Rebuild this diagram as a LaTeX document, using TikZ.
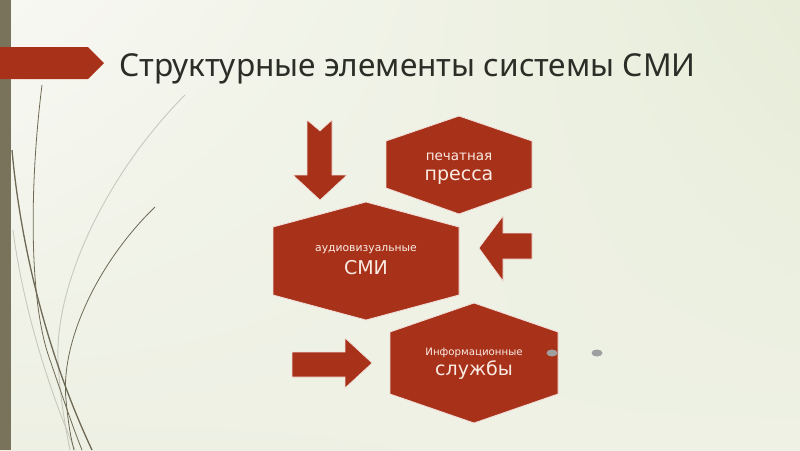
\documentclass[tikz,border=0pt]{standalone}
\usepackage{fontspec}
\usetikzlibrary{shadings}
\setmainfont{Noto Sans}
\newfontfamily\labelfont{DejaVu Sans}
\definecolor{hexred}{RGB}{168,50,25}
\definecolor{barcol}{RGB}{122,115,92}
\definecolor{titlecol}{RGB}{45,45,40}
\definecolor{hextext}{RGB}{250,235,228}
\definecolor{curvedark}{RGB}{110,105,85}
\definecolor{curvelight}{RGB}{200,200,190}
\definecolor{bgul}{RGB}{248,248,243}
\definecolor{bgur}{RGB}{231,237,217}
\definecolor{bgll}{RGB}{237,240,227}
\definecolor{bglr}{RGB}{238,241,228}
\begin{document}
\begin{tikzpicture}[x=1pt,y=-1pt,
  hexfill/.style={fill=hexred,draw=white!85!hexred,line width=0.8pt,line join=miter},
  arrowfill/.style={fill=hexred,draw=white!85!hexred,line width=0.6pt},
  hexlabel/.style={text=hextext,align=center,inner sep=0pt},
  darkcurve/.style={draw=curvedark,line width=1.3pt},
  thincurve/.style={draw=curvedark,line width=0.8pt},
  lightcurve/.style={draw=curvelight,line width=0.9pt}]
\useasboundingbox (0,0) rectangle (800,450);
% background
\shade[upper left=bgul, upper right=bgur, lower left=bgll, lower right=bglr]
  (0,0) rectangle (800,450);
% left bar
\fill[barcol] (0,0) rectangle (11,450);
% decorative curves
\draw[lightcurve] (185,95) .. controls (110,170) and (55,280) .. (58,360) .. controls (60,400) and (66,430) .. (70,450);
\draw[lightcurve] (13,230) .. controls (22,300) and (45,380) .. (75,450);
\draw[darkcurve] (12,150) .. controls (20,240) and (45,350) .. (92,450);
\draw[thincurve] (42,85) .. controls (30,180) and (28,300) .. (50,360) .. controls (62,395) and (72,425) .. (82,450);
\draw[thincurve] (155,207) .. controls (100,260) and (60,340) .. (66,400) .. controls (68,420) and (70,435) .. (74,450);
% title banner
\fill[hexred] (0,47) -- (88,47) -- (104,63) -- (88,79) -- (0,79) -- cycle;
\node[anchor=base west,inner sep=0pt,text=titlecol,font=\fontsize{31.6}{36}\selectfont] (title) at (119,76) {Структурные элементы системы СМИ};
% hexagons
\filldraw[hexfill] (459,116) -- (532,141) -- (532,188) -- (459,214) -- (386,188) -- (386,141) -- cycle;
\filldraw[hexfill] (366,202) -- (459,227) -- (459,295) -- (366,320) -- (273,295) -- (273,227) -- cycle;
\filldraw[hexfill] (474,303) -- (558,332) -- (558,394) -- (474,423) -- (390,394) -- (390,332) -- cycle;
% labels
\node[hexlabel,font=\labelfont\fontsize{13.5}{15}\selectfont] (p1) at (459,157) {печатная};
\node[hexlabel,font=\labelfont\fontsize{19}{21}\selectfont] (p2) at (459,177) {пресса};
\node[hexlabel,font=\labelfont\fontsize{10.8}{13}\selectfont] (a1) at (366,250) {аудиовизуальные};
\node[hexlabel,font=\labelfont\fontsize{19}{21}\selectfont] (a2) at (366,268) {СМИ};
\node[hexlabel,font=\labelfont\fontsize{10.2}{12}\selectfont] (i1) at (474,353) {Информационные};
\node[hexlabel,font=\labelfont\fontsize{19}{21}\selectfont] (i2) at (474,370) {службы};
% arrows
\filldraw[arrowfill] (307,120) -- (320,131) -- (332,120) -- (332,175) -- (347,175) -- (320,200) -- (293,175) -- (307,175) -- cycle;
\filldraw[arrowfill] (532,233) -- (532,259) -- (503,259) -- (503,281) -- (479,248) -- (503,216) -- (503,233) -- cycle;
\filldraw[arrowfill] (292,352) -- (345,352) -- (345,338) -- (372,363) -- (345,388) -- (345,377) -- (292,377) -- cycle;
% grey dots
\fill[gray!75] (552,353) ellipse (5.5 and 3.5);
\fill[gray!75] (597,353) ellipse (5.5 and 3.5);
\end{tikzpicture}
\end{document}
